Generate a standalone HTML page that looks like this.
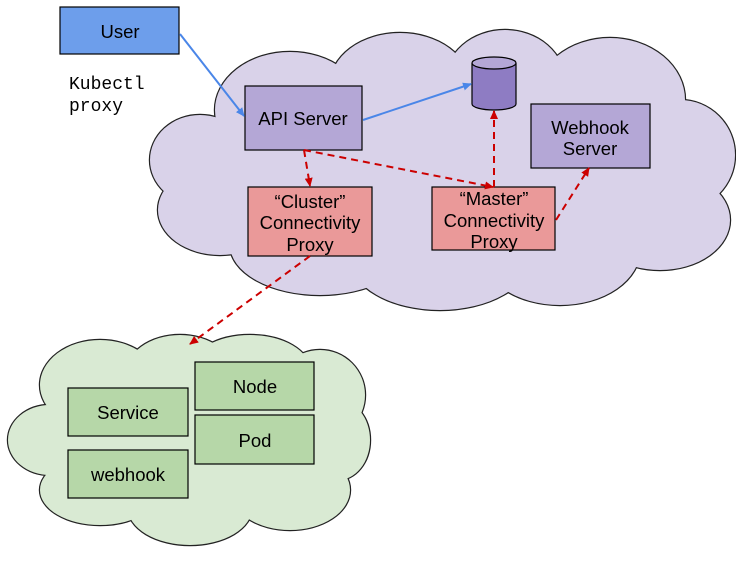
<!DOCTYPE html>
<html><head><meta charset="utf-8"><style>body{margin:0;background:#fff}svg{display:block}</style></head><body>
<svg width="736" height="562" xmlns="http://www.w3.org/2000/svg" font-family="Liberation Sans, Arial, sans-serif">
<defs>
<marker id="b" markerWidth="10" markerHeight="10" refX="8" refY="5" orient="auto" markerUnits="userSpaceOnUse"><path d="M0,1 L9,5 L0,9 z" fill="#4a86e8"/></marker>
<marker id="r" markerWidth="10" markerHeight="10" refX="8" refY="5" orient="auto" markerUnits="userSpaceOnUse"><path d="M0,1 L9,5 L0,9 z" fill="#cc0000"/></marker>
</defs>
<g fill="#d9d2e9" stroke="#222" stroke-width="2.4">
<ellipse cx="290" cy="110" rx="75" ry="58"/><ellipse cx="400" cy="85" rx="70" ry="52"/><ellipse cx="505" cy="82" rx="60" ry="52"/><ellipse cx="610" cy="100" rx="75" ry="62"/><ellipse cx="680" cy="155" rx="55" ry="55"/><ellipse cx="660" cy="220" rx="70" ry="50"/><ellipse cx="560" cy="250" rx="80" ry="55"/><ellipse cx="440" cy="258" rx="90" ry="52"/><ellipse cx="320" cy="245" rx="90" ry="50"/><ellipse cx="220" cy="210" rx="62" ry="45"/><ellipse cx="200" cy="160" rx="50" ry="45"/>
</g>
<g fill="#d9d2e9">
<ellipse cx="290" cy="110" rx="75" ry="58"/><ellipse cx="400" cy="85" rx="70" ry="52"/><ellipse cx="505" cy="82" rx="60" ry="52"/><ellipse cx="610" cy="100" rx="75" ry="62"/><ellipse cx="680" cy="155" rx="55" ry="55"/><ellipse cx="660" cy="220" rx="70" ry="50"/><ellipse cx="560" cy="250" rx="80" ry="55"/><ellipse cx="440" cy="258" rx="90" ry="52"/><ellipse cx="320" cy="245" rx="90" ry="50"/><ellipse cx="220" cy="210" rx="62" ry="45"/><ellipse cx="200" cy="160" rx="50" ry="45"/><ellipse cx="440" cy="170" rx="230" ry="105"/>
</g>
<g fill="#d9ead3" stroke="#222" stroke-width="2.4">
<ellipse cx="100" cy="385" rx="60" ry="45"/><ellipse cx="180" cy="375" rx="55" ry="40"/><ellipse cx="250" cy="370" rx="60" ry="35"/><ellipse cx="320" cy="395" rx="45" ry="45"/><ellipse cx="338" cy="440" rx="32" ry="40"/><ellipse cx="290" cy="490" rx="60" ry="40"/><ellipse cx="190" cy="508" rx="62" ry="37"/><ellipse cx="100" cy="490" rx="60" ry="35"/><ellipse cx="50" cy="440" rx="42" ry="35"/>
</g>
<g fill="#d9ead3">
<ellipse cx="100" cy="385" rx="60" ry="45"/><ellipse cx="180" cy="375" rx="55" ry="40"/><ellipse cx="250" cy="370" rx="60" ry="35"/><ellipse cx="320" cy="395" rx="45" ry="45"/><ellipse cx="338" cy="440" rx="32" ry="40"/><ellipse cx="290" cy="490" rx="60" ry="40"/><ellipse cx="190" cy="508" rx="62" ry="37"/><ellipse cx="100" cy="490" rx="60" ry="35"/><ellipse cx="50" cy="440" rx="42" ry="35"/><ellipse cx="190" cy="440" rx="150" ry="72"/>
</g>
<g stroke="#000" stroke-width="1.2">
<rect x="60" y="7" width="119" height="47" fill="#6d9eeb"/>
<rect x="245" y="86" width="117" height="64" fill="#b4a7d6"/>
<rect x="531" y="104" width="119" height="64" fill="#b4a7d6"/>
<rect x="248" y="187" width="124" height="69" fill="#ea9999"/>
<rect x="432" y="187" width="123" height="63" fill="#ea9999"/>
<rect x="68" y="388" width="120" height="48" fill="#b6d7a8"/>
<rect x="68" y="450" width="120" height="48" fill="#b6d7a8"/>
<rect x="195" y="362" width="119" height="48" fill="#b6d7a8"/>
<rect x="195" y="415" width="119" height="49" fill="#b6d7a8"/>
</g>
<g stroke="#000" stroke-width="1.2" fill="#8e7cc3">
<path d="M472,63 V104 A22,6 0 0 0 516,104 V63"/>
<ellipse cx="494" cy="63" rx="22" ry="6" fill="#b4a7d6"/>
</g>
<g font-size="18.5" fill="#000" text-anchor="middle">
<text x="120" y="38">User</text>
<text x="303" y="125">API Server</text>
<text x="590" y="134">Webhook</text><text x="590" y="155">Server</text>
<text x="310" y="208">“Cluster”</text><text x="310" y="229">Connectivity</text><text x="310" y="251">Proxy</text>
<text x="494" y="205">“Master”</text><text x="494" y="227">Connectivity</text><text x="494" y="248">Proxy</text>
<text x="128" y="419">Service</text><text x="128" y="481">webhook</text>
<text x="255" y="393">Node</text><text x="255" y="447">Pod</text>
</g>
<g font-family="Liberation Mono, monospace" font-size="18"><text x="69" y="89">Kubectl</text><text x="69" y="111">proxy</text></g>
<g stroke="#4a86e8" stroke-width="2" fill="none">
<line x1="180" y1="34" x2="244" y2="116" marker-end="url(#b)"/>
<line x1="363" y1="120" x2="471" y2="84" marker-end="url(#b)"/>
</g>
<g stroke="#cc0000" stroke-width="2" stroke-dasharray="7,5" fill="none">
<line x1="304" y1="150" x2="310" y2="186" marker-end="url(#r)"/>
<line x1="304" y1="150" x2="493" y2="187" marker-end="url(#r)"/>
<line x1="494" y1="187" x2="494" y2="111" marker-end="url(#r)"/>
<line x1="556" y1="220" x2="589" y2="168" marker-end="url(#r)"/>
<line x1="310" y1="256" x2="190" y2="344" marker-end="url(#r)"/>
</g>
</svg>
</body></html>
